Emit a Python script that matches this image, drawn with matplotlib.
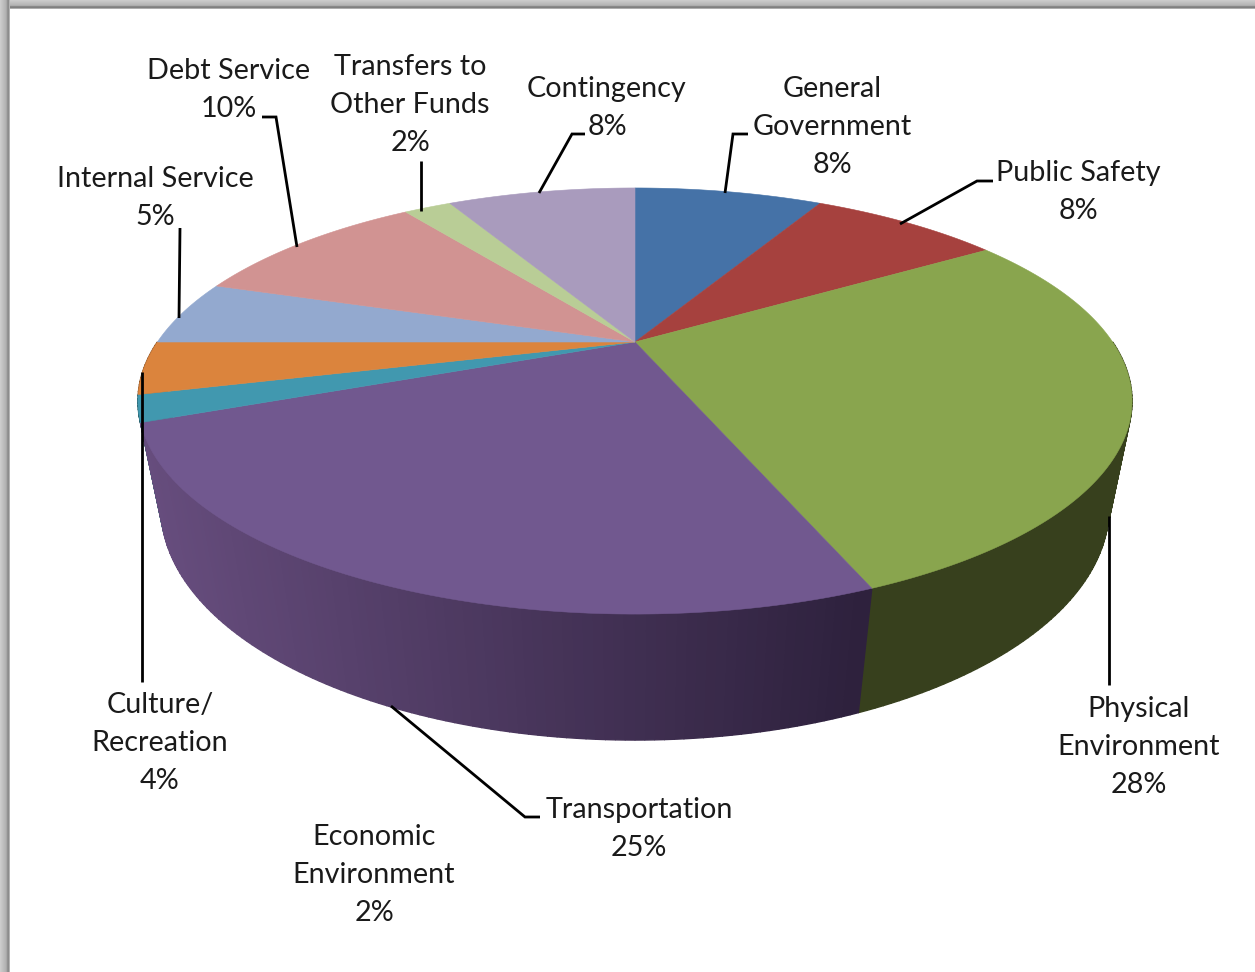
import numpy as np
import matplotlib.pyplot as plt
from matplotlib.patches import Polygon

plt.rcParams['font.family'] = ['Lato', 'DejaVu Sans']

categories = ['General\nGovernment', 'Public Safety', 'Physical\nEnvironment', 'Transportation',
              'Economic\nEnvironment', 'Culture/\nRecreation', 'Internal Service', 'Debt Service',
              'Transfers to\nOther Funds', 'Contingency']
values = [8, 8, 28, 25, 2, 4, 5, 10, 2, 8]
top_colors = ['#4572a7', '#a6413e', '#89a54e', '#71588f', '#4198af',
              '#db843d', '#93a9cf', '#d19392', '#b9cd96', '#a99bbd']
side_colors = ['#2a4464', '#632725', '#37401d', '#5e4878', '#27606c',
               '#834f25', '#58657c', '#7d5857', '#6f7b5a', '#655d71']

label_pos = [(832, 127), (1078, 192), (1139, 747), (639, 829), (374, 875),
             (160, 743), (155, 198), (229, 90), (410, 105), (607, 108)]
leaders = [[(748, 134), (733, 134), (725, 193)],
           [(993, 181), (977, 181), (900, 224)],
           [(1109, 516), (1109, 685)],
           [(391, 706), (525, 817), (540, 817)],
           [(142, 372), (142, 682)],
           [(180, 228), (179, 318)],
           [(262, 117), (276, 117), (297, 247)],
           [(421, 161), (421, 211)],
           [(585, 134), (572, 134), (539, 193)]]

# perspective set-up for the disc
CX, CY = 635, 342
A, D, K = 477.6, 196.7, 0.277
M, N = 0.045, 109


def project(theta, z=0.0):
    u, v = np.sin(theta), np.cos(theta)
    w = 1 + K * v + M * z
    return CX + A * u / w, CY - (D * v - N * z) / w


def mix(c0, c1, t):
    return tuple(a + (b - a) * t for a, b in zip(c0, c1))


fig = plt.figure(figsize=(12.55, 9.72), dpi=100)
ax = fig.add_axes([0, 0, 1, 1])
ax.axis('off')

# window shadow along the top and left
left = np.array([[0.80, 0.78, 0.76, 0.74, 0.72, 0.70, 0.66, 0.58, 0.55, 0.70]])
top = np.array([[0.80], [0.78], [0.76], [0.74], [0.72], [0.68], [0.54], [0.50], [0.68]])
ax.imshow(top, cmap='gray', vmin=0, vmax=1, extent=(0, 1255, 9, 0), aspect='auto', zorder=1)
ax.imshow(left, cmap='gray', vmin=0, vmax=1, extent=(0, 10, 972, 0), aspect='auto', zorder=1)
ax.set_xlim(0, 1255)
ax.set_ylim(972, 0)

edges = np.deg2rad(np.cumsum([0] + values) * 3.6)
purple_dark = (0.18, 0.13, 0.24)
purple_light = (0.40, 0.30, 0.49)

# side wall first, only the front half shows, then the top face over it
strips = []
for i in range(len(values)):
    n = max(4, values[i] * 4)
    ts = np.linspace(edges[i], edges[i + 1], n + 1)
    for t0, t1 in zip(ts[:-1], ts[1:]):
        v = np.cos((t0 + t1) / 2)
        if v < 0:
            strips.append((v, i, t0, t1))
strips.sort(key=lambda s: -s[0])
for _, i, t0, t1 in strips:
    tt = np.linspace(t0, t1, 4)
    xt, yt = project(tt)
    xb, yb = project(tt, 1.0)
    pts = np.r_[np.c_[xt, yt], np.c_[xb, yb][::-1]]
    if i == 3:
        frac = np.clip((xt.mean() - 150) / (860 - 150), 0, 1)
        col = mix(purple_light, purple_dark, frac)
    else:
        col = side_colors[i]
    ax.add_patch(Polygon(pts, closed=True, fc=col, ec=col, lw=1.0, zorder=2))

for i in range(len(values)):
    tt = np.linspace(edges[i], edges[i + 1], 120)
    xt, yt = project(tt)
    pts = np.r_[[(CX, CY)], np.c_[xt, yt]]
    ax.add_patch(Polygon(pts, closed=True, fc=top_colors[i], ec=top_colors[i], lw=0.4, zorder=3))

for line in leaders:
    xs, ys = zip(*line)
    ax.plot(xs, ys, color='black', lw=2, solid_capstyle='butt', solid_joinstyle='miter', zorder=4)

for cat, val, (x, y) in zip(categories, values, label_pos):
    ax.text(x, y, f'{cat}\n{val}%', ha='center', va='center', ma='center',
            fontsize=20.7, color='#1a1a1a', linespacing=1.56, zorder=5)

fig.savefig('out.png', dpi=100)
